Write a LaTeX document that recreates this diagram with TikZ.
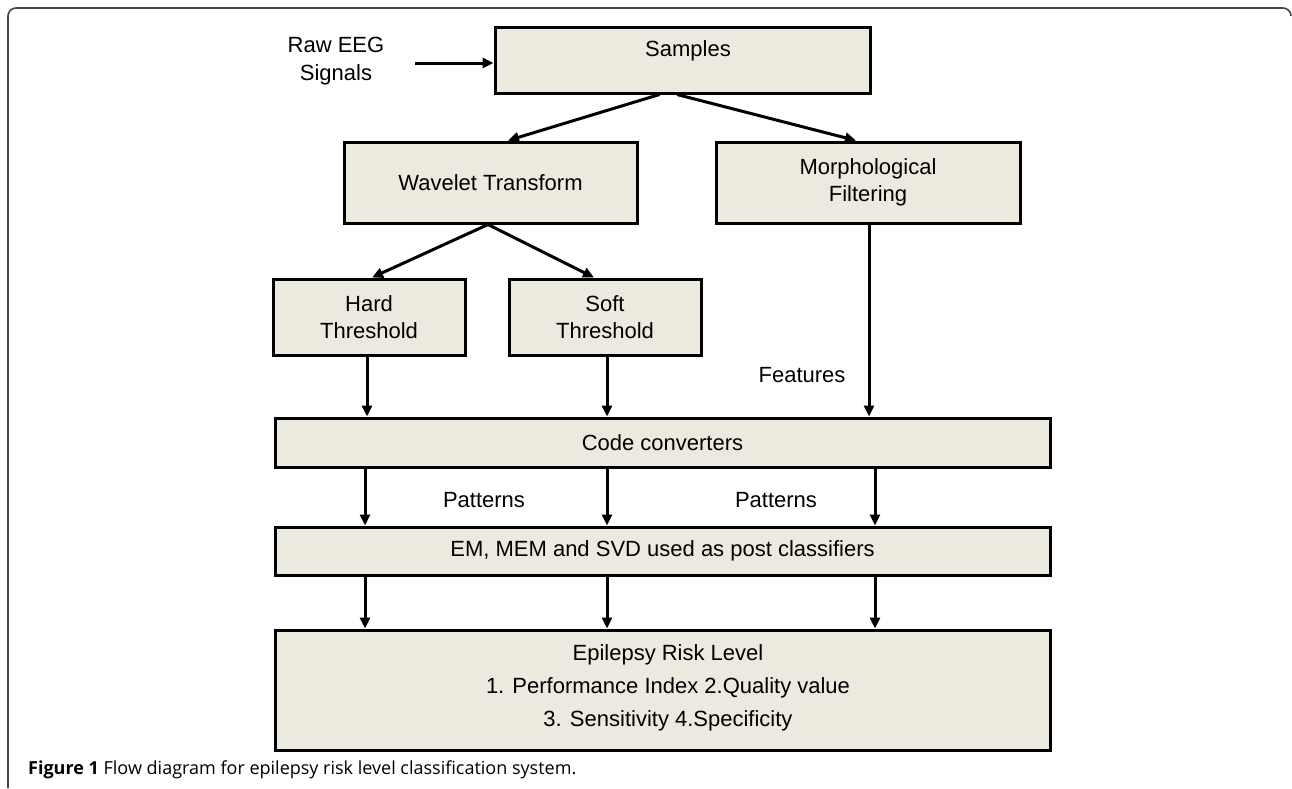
\documentclass[tikz,border=0pt]{standalone}
\usepackage{fontspec}
\setmainfont{Liberation Sans}
\newfontfamily\capfont{Open Sans}
\usetikzlibrary{arrows.meta}
\definecolor{boxfill}{RGB}{236,234,223}
\definecolor{framegray}{RGB}{70,70,70}
\tikzset{
  box/.style={draw=black, line width=3pt, fill=boxfill, inner sep=0pt, align=center,
    font=\fontsize{22}{27}\selectfont},
  lbl/.style={inner sep=0pt, align=center, font=\fontsize{22}{28}\selectfont},
  arr/.style={line width=3pt, -{Triangle[length=11pt,width=10pt]}}
}
\begin{document}
\begin{tikzpicture}[x=1pt,y=-1pt]
\useasboundingbox (0,0) rectangle (1292,788);
% frame
\draw[framegray, line width=1.6pt] (8,788) -- (8,16) arc[start angle=180,end angle=270,radius=8] -- (1283,8) arc[start angle=270,end angle=360,radius=8];
% boxes
\node[box, minimum width=375pt, minimum height=66pt] (samples) at (682.5,60) {};
\node[lbl] (samplestxt) at (688,51) {Samples};
\node[box, minimum width=293pt, minimum height=81pt] (wavelet) at (490.5,182.5) {Wavelet Transform};
\node[box, minimum width=304pt, minimum height=81pt] (morph) at (868,182.5) {Morphological\\Filtering};
\node[box, minimum width=192pt, minimum height=76pt] (hard) at (369,317) {Hard\\Threshold};
\node[box, minimum width=192pt, minimum height=76pt] (soft) at (605,317) {Soft\\Threshold};
\node[box, minimum width=775pt, minimum height=49pt] (code) at (662.5,442.5) {Code converters};
\node[box, minimum width=775pt, minimum height=48pt] (em) at (662.5,551) {EM, MEM and SVD used as post classifiers};
\node[box, minimum width=775pt, minimum height=120pt] (epi) at (662.5,690) {};
\node[lbl, font=\fontsize{22}{33}\selectfont] (epitxt) at (668,688) {Epilepsy Risk Level\\1. Performance Index 2.Quality value\\3. Sensitivity 4.Specificity};
% labels
\node[lbl, inner xsep=31pt] (raw) at (336,61) {Raw EEG\\Signals};
\node[lbl] (feat) at (802,375) {Features};
\node[lbl] (pat1) at (484,500) {Patterns};
\node[lbl] (pat2) at (776,500) {Patterns};
% connectors
\draw[arr] ([yshift=-2pt]raw.east) -- ([yshift=-2pt]raw.east -| samples.west);
\draw[arr] ([xshift=-23pt]samples.south) -- ([xshift=17.5pt]wavelet.north);
\draw[arr] ([xshift=-5.5pt]samples.south) -- ([xshift=-12pt]morph.north);
\draw[arr] ([xshift=-2.5pt]wavelet.south) -- ([xshift=3pt]hard.north);
\draw[arr] ([xshift=-2.5pt]wavelet.south) -- ([xshift=-11pt]soft.north);
\draw[arr] ([xshift=-2pt]hard.south) -- ([xshift=-2pt]hard.south |- code.north);
\draw[arr] ([xshift=2pt]soft.south) -- ([xshift=2pt]soft.south |- code.north);
\draw[arr] ([xshift=1pt]morph.south) -- ([xshift=1pt]morph.south |- code.north);
\draw[arr] ([xshift=-4pt]hard.south |- code.south) -- ([xshift=-4pt]hard.south |- em.north);
\draw[arr] ([xshift=2pt]soft.south |- code.south) -- ([xshift=2pt]soft.south |- em.north);
\draw[arr] ([xshift=7pt]morph.south |- code.south) -- ([xshift=7pt]morph.south |- em.north);
\draw[arr] ([xshift=-4pt]hard.south |- em.south) -- ([xshift=-4pt]hard.south |- epi.north);
\draw[arr] ([xshift=2pt]soft.south |- em.south) -- ([xshift=2pt]soft.south |- epi.north);
\draw[arr] ([xshift=7pt]morph.south |- em.south) -- ([xshift=7pt]morph.south |- epi.north);
% caption
\node[anchor=west, inner sep=0pt, font=\capfont\fontsize{18}{21}\selectfont] (caption) at (28,770) {\textbf{Figure 1} Flow diagram for epilepsy risk level classification system.};
\end{tikzpicture}
\end{document}
